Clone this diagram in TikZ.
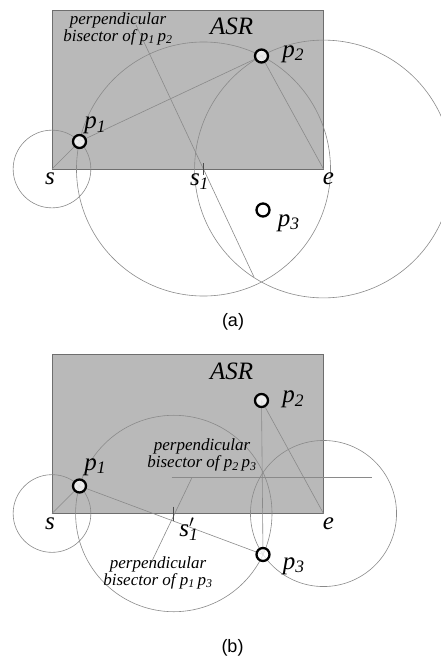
\documentclass[tikz,border=0pt]{standalone}
\usepackage{fontspec}
\setmainfont{Liberation Serif}
\setsansfont{Liberation Sans}
\usepackage{tikz}
\usetikzlibrary{positioning,calc}
\definecolor{asrfill}{HTML}{B9B9B9}
\definecolor{asredge}{HTML}{6E6E6E}
\definecolor{guidegray}{HTML}{8A8A8A}
\newcommand{\ptsub}[1]{p\textsubscript{#1}}

\begin{document}
\begin{tikzpicture}[x=1pt, y=-1pt,
    asr/.style={fill=asrfill, draw=asredge, line width=1pt},
    guide/.style={draw=guidegray, line width=0.6pt},
    ticker/.style={draw=black!70, line width=0.7pt},
    ptmark/.style={circle, draw=black, line width=2.3pt, fill=white, fill opacity=0.75,
                   minimum size=13pt, inner sep=0pt},
    lbl/.style={font=\fontsize{25}{27}\selectfont\itshape, inner sep=0pt},
    note/.style={font=\fontsize{17}{17}\selectfont\itshape, align=center, inner sep=0pt},
    panel/.style={font=\fontsize{18}{20}\selectfont\sffamily, inner sep=0pt}]
    \useasboundingbox (0,0) rectangle (440,659);

    % (a)
    \coordinate (sa) at (52,169);
    \coordinate (ea) at (323.5,169);
    \coordinate (s1a) at (203.5,169);
    \coordinate (p1a) at (79.5,141.5);
    \coordinate (p2a) at (261.5,56);
    \coordinate (p3a) at (263,210);
    \coordinate (bisa1) at (136,25);
    \coordinate (bisa2) at (254,277);
    \draw[asr] (sa) rectangle (323.5,10);
    \draw[guide] let \p1=($(p1a)-(sa)$), \n1={veclen(\x1,\y1)} in (sa) circle (\n1);
    \draw[guide] let \p1=($(p1a)-(s1a)$), \n1={veclen(\x1,\y1)} in (s1a) circle (\n1);
    \draw[guide] let \p1=($(p2a)-(ea)$), \n1={veclen(\x1,\y1)} in (ea) circle (\n1);
    \draw[guide] (sa) -- (p1a) -- (p2a) -- (ea);
    \draw[guide] (bisa1) -- (bisa2);
    \draw[ticker] ([yshift=6pt]s1a) -- ([yshift=-6pt]s1a);
    \node[ptmark] (m1a) at (p1a) {};
    \node[ptmark] (m2a) at (p2a) {};
    \node[ptmark] (m3a) at (p3a) {};
    \node[lbl] (asra) at (231.7,26.7) {ASR};
    \node[lbl, right=-3pt of m1a, yshift=16pt] (l1a) {\ptsub{1}};
    \node[lbl, right=13pt of m2a, yshift=2pt] (l2a) {\ptsub{2}};
    \node[lbl, right=7pt of m3a, yshift=-13pt] (l3a) {\ptsub{3}};
    \node[lbl, below=4pt of sa, xshift=-2pt] (lsa) {s};
    \node[lbl, below=4pt of ea, xshift=5pt] (lea) {e};
    \node[lbl, below=5pt of s1a, xshift=-4pt] (ls1a) {s\textsubscript{1}};
    \node[note] (nota) at (118,28.5) {perpendicular\\bisector of \ptsub{1}\,\ptsub{2}};
    \node[panel] (capa) at (233,321.5) {(a)};

    % (b)
    \begin{scope}[yshift=-344.5pt]
    \coordinate (sb) at (52,169);
    \coordinate (eb) at (323.5,169);
    \coordinate (s1b) at (173.8,169);
    \coordinate (p1b) at (79.5,141.5);
    \coordinate (p2b) at (261.5,56);
    \coordinate (p3b) at (263,210);
    \coordinate (bisb1) at (171.7,133);
    \coordinate (bisb2) at (371.7,133);
    \coordinate (bisb3) at (192,133);
    \coordinate (bisb4) at (152,216.5);
    \draw[asr] (sb) rectangle (323.5,10);
    \draw[guide] let \p1=($(p1b)-(sb)$), \n1={veclen(\x1,\y1)} in (sb) circle (\n1);
    \draw[guide] let \p1=($(p1b)-(s1b)$), \n1={veclen(\x1,\y1)} in (s1b) circle (\n1);
    \draw[guide] let \p1=($(p3b)-(eb)$), \n1={veclen(\x1,\y1)} in (eb) circle (\n1);
    \draw[guide] (sb) -- (p1b) -- (p3b);
    \draw[guide] (p2b) -- (p3b);
    \draw[guide] (p2b) -- (eb);
    \draw[guide] (bisb1) -- (bisb2);
    \draw[guide] (bisb3) -- (bisb4);
    \draw[ticker] ([yshift=7pt]s1b) -- ([yshift=-7pt]s1b);
    \node[ptmark] (m1b) at (p1b) {};
    \node[ptmark] (m2b) at (p2b) {};
    \node[ptmark] (m3b) at (p3b) {};
    \node[lbl] (asrb) at (231.7,27.2) {ASR};
    \node[lbl, right=-3pt of m1b, yshift=19pt] (l1b) {\ptsub{1}};
    \node[lbl, right=13pt of m2b, yshift=1pt] (l2b) {\ptsub{2}};
    \node[lbl, right=12pt of m3b, yshift=-11.5pt] (l3b) {\ptsub{3}};
    \node[lbl, below=4pt of sb, xshift=-2pt] (lsb) {s};
    \node[lbl, below=4pt of eb, xshift=5pt] (leb) {e};
    \node[lbl, below=4pt of s1b, xshift=15pt] (ls1b) {s\rlap{$'$}\textsubscript{1}};
    \node[note] (notb1) at (202,110.5) {perpendicular\\bisector of \ptsub{2}\,\ptsub{3}};
    \node[note] (notb2) at (158,228) {perpendicular\\bisector of \ptsub{1}\,\ptsub{3}};
    \node[panel] (capb) at (232.5,303.5) {(b)};
    \end{scope}
\end{tikzpicture}
\end{document}
